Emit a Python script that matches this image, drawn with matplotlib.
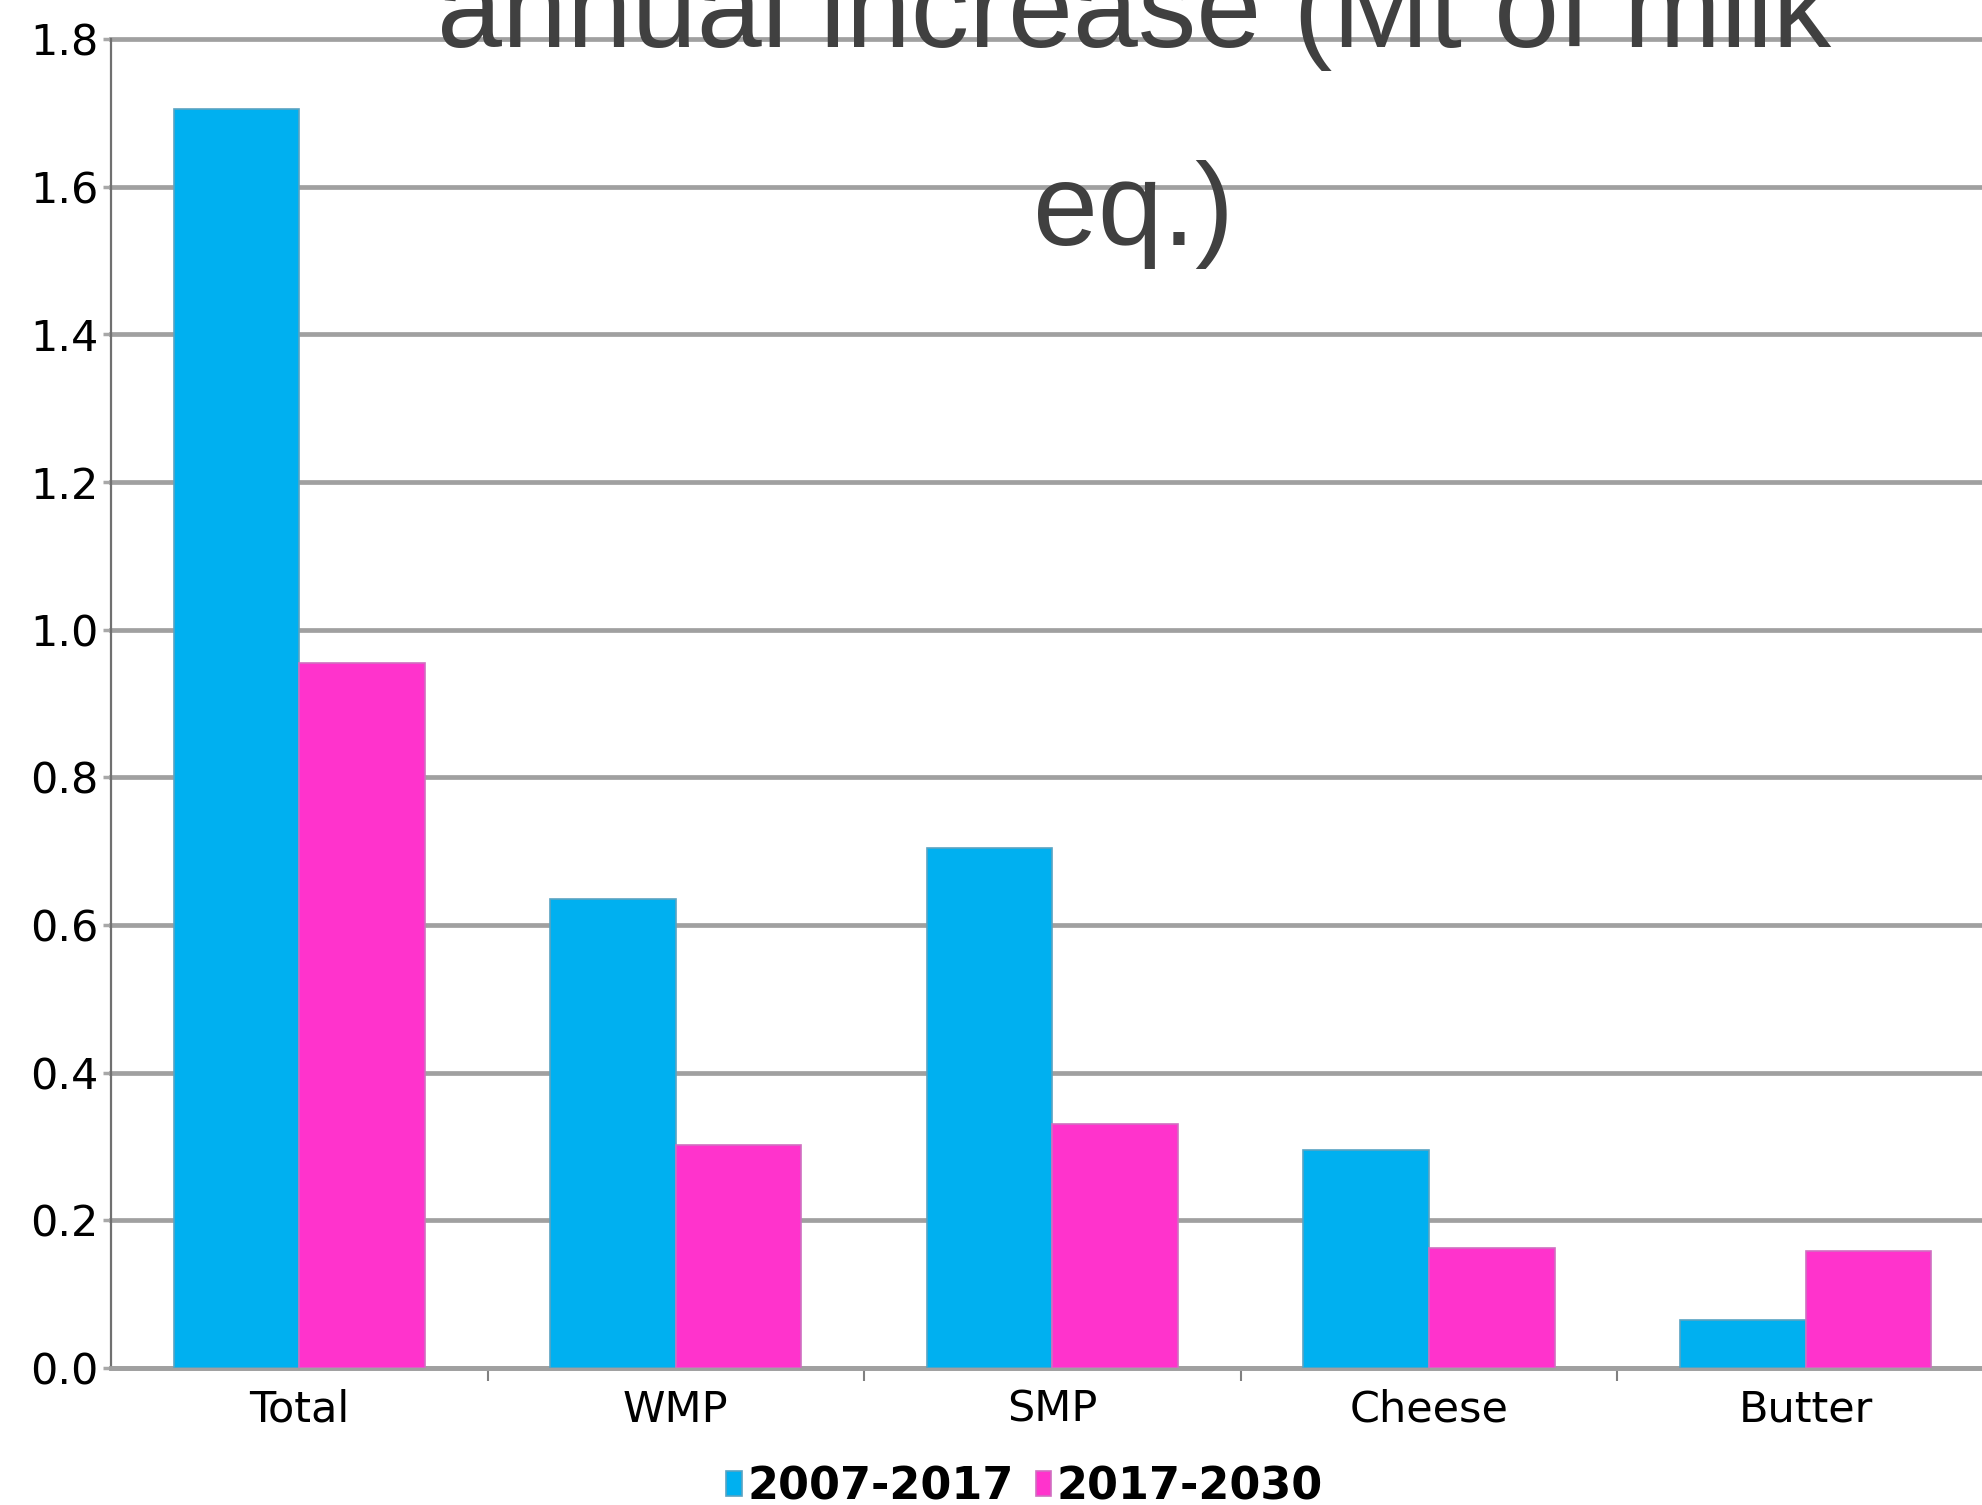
import matplotlib.pyplot as plt
import numpy as np
from matplotlib.ticker import FixedLocator

# datos
categorias = ["Total", "WMP", "SMP", "Cheese", "Butter"]
serie_1 = [1.705, 0.635, 0.705, 0.295, 0.065]   # 2007-2017
serie_2 = [0.955, 0.302, 0.33, 0.162, 0.158]    # 2017-2030
nombres = ["2007-2017", "2017-2030"]
ticks_y = [0.0, 0.2, 0.4, 0.6, 0.8, 1.0, 1.2, 1.4, 1.6, 1.8]

azul = "#00b0f0"
rosa = "#ff33cc"

fig = plt.figure(figsize=(19.82, 15.05), dpi=100)
ax = fig.add_axes([0.056, 0.091, 0.95, 0.883])

x = np.arange(len(categorias))
ancho = 1 / 3
ax.bar(x - ancho / 2, serie_1, ancho, color=azul, edgecolor="#5aa3c2", lw=1.2,
       label=nombres[0], zorder=3)
ax.bar(x + ancho / 2, serie_2, ancho, color=rosa, edgecolor="#d070c0", lw=1.2,
       label=nombres[1], zorder=3)

ax.set_xlim(-0.5, len(categorias) - 0.5)
ax.set_ylim(0, 1.8)

# eje y
ax.set_yticks(ticks_y)
ax.set_yticklabels([f"{v:.1f}" for v in ticks_y])
ax.yaxis.grid(True, color="#a0a0a0", lw=3.4, zorder=0)
for g in ax.get_ygridlines():
    g.set_clip_on(False)
ax.set_axisbelow(True)
ax.tick_params(axis="y", length=6, width=2.5, color="#a8a8a8", pad=3,
               labelsize=31, labelcolor="black")

# eje x: etiquetas centradas, marcas entre categorias
ax.set_xticks(x)
ax.set_xticklabels(categorias)
ax.xaxis.set_minor_locator(FixedLocator(np.arange(0.5, len(categorias) - 0.5, 1)))
ax.tick_params(axis="x", which="major", length=0, pad=15, labelsize=31,
               labelcolor="black")
ax.tick_params(axis="x", which="minor", length=9, width=1.5, color="#808080")

for s in ["top", "right"]:
    ax.spines[s].set_visible(False)
ax.spines["left"].set_color("#707070")
ax.spines["left"].set_linewidth(1.6)
ax.spines["bottom"].set_color("#a0a0a0")
ax.spines["bottom"].set_linewidth(3.4)

# titulo (la primera linea sale cortada por arriba)
fig.text(0.572, 1 - 47 / 1505, "annual increase (Mt of milk", ha="center",
         va="baseline", fontsize=84, family="Liberation Sans", color="#404040")
fig.text(0.572, 1 - 245 / 1505, "eq.)", ha="center", va="baseline",
         fontsize=84, family="Liberation Sans", color="#404040")

leg = fig.legend(loc="center", bbox_to_anchor=(0.517, 1 - 1487 / 1505), ncol=2,
                 frameon=False, handlelength=0.35, handleheight=0.5,
                 handletextpad=0.12, columnspacing=0.5,
                 prop={"size": 32, "weight": "bold", "family": "DejaVu Sans"})

fig.savefig("out.png", dpi=100)
